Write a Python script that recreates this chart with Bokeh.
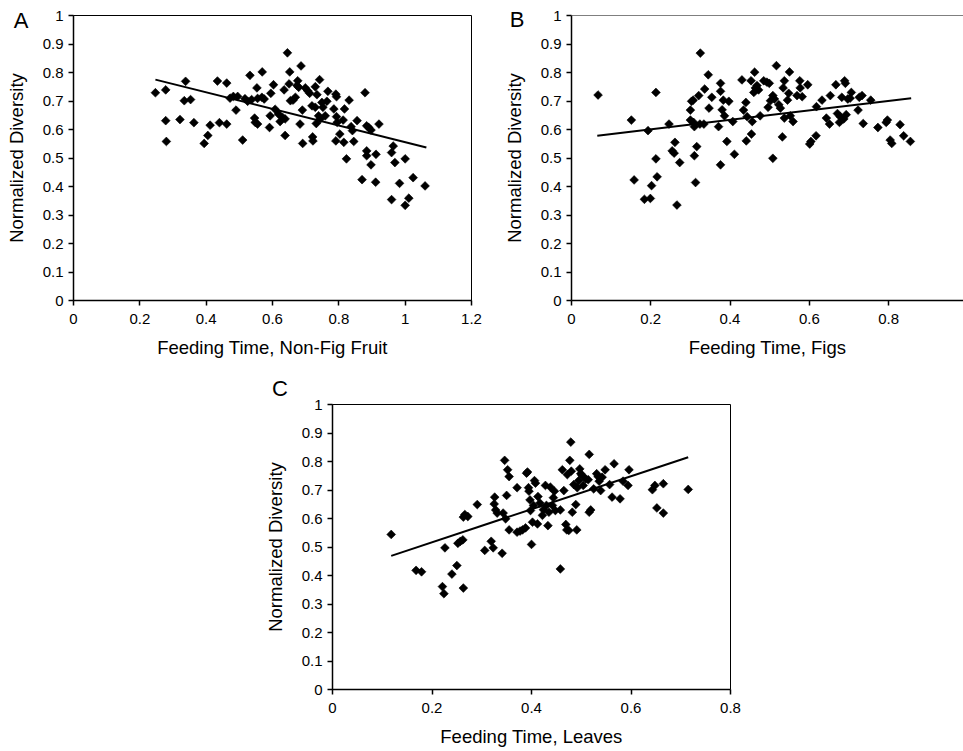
from bokeh.plotting import figure
from bokeh.layouts import row, column, Spacer
from bokeh.models import Range1d, FixedTicker, Span, ColumnDataSource, Div, GridBox
from bokeh.embed import file_html
from bokeh.resources import INLINE
import math

# ---------------- data ----------------
# Panel A: feeding time on non-fig fruit vs normalized diversity
a_x = [0.247, 0.278, 0.278, 0.280, 0.321, 0.338, 0.334, 0.353, 0.363, 0.394,
       0.405, 0.412, 0.434, 0.440, 0.462, 0.462, 0.472, 0.482, 0.490, 0.495,
       0.510, 0.517, 0.525, 0.532, 0.537, 0.546, 0.548, 0.553, 0.555, 0.555,
       0.569, 0.568, 0.575, 0.591, 0.593, 0.595, 0.603, 0.608, 0.618, 0.623,
       0.631, 0.635, 0.638, 0.638, 0.645, 0.650, 0.652, 0.654, 0.662, 0.669,
       0.674, 0.676, 0.679, 0.683, 0.686, 0.690, 0.691, 0.699, 0.706, 0.712,
       0.719, 0.721, 0.722, 0.729, 0.729, 0.732, 0.734, 0.742, 0.739, 0.744,
       0.749, 0.752, 0.759, 0.764, 0.767, 0.785, 0.791, 0.793, 0.791, 0.793,
       0.795, 0.803, 0.813, 0.815, 0.817, 0.823, 0.831, 0.837, 0.841, 0.845,
       0.855, 0.870, 0.879, 0.884, 0.884, 0.884, 0.890, 0.897, 0.897, 0.911,
       0.912, 0.921, 0.959, 0.959, 0.964, 0.969, 0.983, 1.000, 1.000, 1.011,
       1.024, 1.060]
a_y = [0.729, 0.739, 0.631, 0.558, 0.635, 0.769, 0.701, 0.705, 0.624, 0.551,
       0.579, 0.615, 0.770, 0.624, 0.763, 0.619, 0.710, 0.716, 0.668, 0.716,
       0.563, 0.708, 0.699, 0.790, 0.705, 0.640, 0.625, 0.746, 0.619, 0.709,
       0.802, 0.713, 0.707, 0.607, 0.648, 0.727, 0.757, 0.671, 0.654, 0.628,
       0.642, 0.739, 0.637, 0.579, 0.869, 0.760, 0.802, 0.701, 0.703, 0.713,
       0.754, 0.771, 0.748, 0.619, 0.823, 0.668, 0.551, 0.746, 0.736, 0.727,
       0.683, 0.574, 0.560, 0.750, 0.678, 0.621, 0.722, 0.775, 0.648, 0.637,
       0.695, 0.678, 0.648, 0.699, 0.734, 0.672, 0.724, 0.715, 0.560, 0.645,
       0.625, 0.584, 0.633, 0.555, 0.672, 0.497, 0.703, 0.610, 0.596, 0.558,
       0.631, 0.424, 0.729, 0.613, 0.525, 0.508, 0.607, 0.598, 0.476, 0.415,
       0.513, 0.619, 0.354, 0.519, 0.542, 0.484, 0.411, 0.497, 0.334, 0.359,
       0.431, 0.402]
a_trend_x = [0.247, 1.064]
a_trend_y = [0.775, 0.537]

# Panel B: feeding time on figs
b_x = [0.067, 0.151, 0.158, 0.184, 0.193, 0.199, 0.202, 0.213, 0.213, 0.216,
       0.246, 0.254, 0.259, 0.261, 0.266, 0.273, 0.300, 0.300, 0.303, 0.307,
       0.308, 0.310, 0.310, 0.313, 0.316, 0.321, 0.325, 0.324, 0.336, 0.334,
       0.345, 0.347, 0.354, 0.371, 0.376, 0.376, 0.376, 0.380, 0.383, 0.386,
       0.392, 0.397, 0.407, 0.411, 0.430, 0.434, 0.440, 0.441, 0.443, 0.453,
       0.454, 0.456, 0.460, 0.462, 0.464, 0.468, 0.472, 0.476, 0.485, 0.493,
       0.496, 0.499, 0.502, 0.508, 0.508, 0.512, 0.517, 0.523, 0.527, 0.532,
       0.534, 0.537, 0.537, 0.545, 0.548, 0.550, 0.552, 0.559, 0.569, 0.576,
       0.577, 0.582, 0.596, 0.601, 0.604, 0.617, 0.618, 0.632, 0.643, 0.651,
       0.653, 0.667, 0.671, 0.676, 0.678, 0.682, 0.687, 0.689, 0.691, 0.693,
       0.697, 0.703, 0.706, 0.723, 0.726, 0.733, 0.736, 0.755, 0.773, 0.794,
       0.797, 0.804, 0.808, 0.829, 0.838, 0.855]
b_y = [0.721, 0.633, 0.423, 0.355, 0.596, 0.358, 0.403, 0.730, 0.497, 0.434,
       0.619, 0.525, 0.517, 0.555, 0.335, 0.484, 0.668, 0.633, 0.699, 0.703,
       0.625, 0.610, 0.508, 0.414, 0.540, 0.719, 0.868, 0.619, 0.742, 0.619,
       0.792, 0.675, 0.713, 0.610, 0.734, 0.762, 0.476, 0.669, 0.703, 0.648,
       0.558, 0.699, 0.628, 0.513, 0.774, 0.668, 0.695, 0.560, 0.645, 0.771,
       0.584, 0.628, 0.730, 0.801, 0.746, 0.754, 0.739, 0.648, 0.771, 0.766,
       0.678, 0.762, 0.701, 0.499, 0.719, 0.707, 0.824, 0.687, 0.675, 0.574,
       0.746, 0.771, 0.640, 0.703, 0.727, 0.802, 0.648, 0.628, 0.719, 0.771,
       0.746, 0.715, 0.757, 0.549, 0.558, 0.578, 0.680, 0.703, 0.640, 0.619,
       0.719, 0.757, 0.656, 0.625, 0.645, 0.713, 0.637, 0.771, 0.762, 0.652,
       0.707, 0.710, 0.730, 0.668, 0.713, 0.719, 0.621, 0.703, 0.607, 0.625,
       0.633, 0.563, 0.551, 0.617, 0.578, 0.558]
b_trend_x = [0.065, 0.857]
b_trend_y = [0.578, 0.710]

# Panel C: feeding time on leaves
c_x = [0.118, 0.168, 0.179, 0.221, 0.224, 0.226, 0.240, 0.250, 0.252, 0.257,
       0.262, 0.263, 0.263, 0.266, 0.272, 0.291, 0.306, 0.319, 0.323, 0.326,
       0.325, 0.328, 0.331, 0.341, 0.343, 0.346, 0.348, 0.350, 0.352, 0.355,
       0.355, 0.371, 0.371, 0.377, 0.382, 0.388, 0.390, 0.392, 0.394, 0.395,
       0.397, 0.398, 0.400, 0.402, 0.404, 0.406, 0.408, 0.412, 0.413, 0.417,
       0.422, 0.424, 0.428, 0.430, 0.433, 0.435, 0.438, 0.442, 0.444, 0.446,
       0.448, 0.458, 0.458, 0.462, 0.465, 0.469, 0.471, 0.472, 0.475, 0.477,
       0.479, 0.480, 0.482, 0.485, 0.489, 0.491, 0.492, 0.495, 0.497, 0.499,
       0.502, 0.504, 0.509, 0.514, 0.516, 0.516, 0.519, 0.525, 0.531, 0.534,
       0.536, 0.539, 0.542, 0.548, 0.557, 0.562, 0.566, 0.578, 0.584, 0.594,
       0.596, 0.643, 0.648, 0.652, 0.665, 0.665, 0.715]
c_y = [0.544, 0.418, 0.413, 0.361, 0.336, 0.497, 0.405, 0.435, 0.513, 0.520,
       0.525, 0.356, 0.605, 0.614, 0.607, 0.649, 0.488, 0.520, 0.497, 0.675,
       0.651, 0.630, 0.619, 0.478, 0.619, 0.804, 0.599, 0.681, 0.771, 0.747,
       0.560, 0.552, 0.708, 0.556, 0.560, 0.567, 0.759, 0.763, 0.708, 0.696,
       0.665, 0.628, 0.509, 0.587, 0.646, 0.733, 0.724, 0.581, 0.677, 0.654,
       0.611, 0.631, 0.716, 0.646, 0.575, 0.622, 0.710, 0.646, 0.673, 0.696,
       0.628, 0.423, 0.630, 0.771, 0.698, 0.579, 0.560, 0.754, 0.558, 0.804,
       0.868, 0.766, 0.622, 0.719, 0.649, 0.560, 0.708, 0.733, 0.774, 0.757,
       0.751, 0.716, 0.739, 0.736, 0.825, 0.622, 0.630, 0.704, 0.757, 0.747,
       0.731, 0.698, 0.745, 0.771, 0.719, 0.675, 0.792, 0.669, 0.731, 0.716,
       0.771, 0.701, 0.716, 0.637, 0.722, 0.619, 0.702]
c_trend_x = [0.118, 0.715]
c_trend_y = [0.469, 0.815]

y_ticks = [0, 0.1, 0.2, 0.3, 0.4, 0.5, 0.6, 0.7, 0.8, 0.9, 1.0]
y_tick_labels = ["0", "0.1", "0.2", "0.3", "0.4", "0.5", "0.6", "0.7", "0.8", "0.9", "1"]
a_x_ticks = [0, 0.2, 0.4, 0.6, 0.8, 1.0, 1.2]
a_x_tick_labels = ["0", "0.2", "0.4", "0.6", "0.8", "1", "1.2"]
b_x_ticks = [0, 0.2, 0.4, 0.6, 0.8]
b_x_tick_labels = ["0", "0.2", "0.4", "0.6", "0.8"]
c_x_ticks = [0, 0.2, 0.4, 0.6, 0.8]
c_x_tick_labels = ["0", "0.2", "0.4", "0.6", "0.8"]

x_titles = ["Feeding Time, Non-Fig Fruit", "Feeding Time, Figs", "Feeding Time, Leaves"]
y_title = "Normalized Diversity"
panel_letters = ["A", "B", "C"]

FONT = "Liberation Sans"


def make_panel(xs, ys, tx, ty, xr, xticks, xlabels, xtitle,
               width, height, bl, bt, br, bb, outline=True):
    p = figure(width=width, height=height, output_backend="svg", toolbar_location=None,
               x_range=Range1d(*xr), y_range=Range1d(0, 1),
               min_border_left=bl, min_border_top=bt, min_border_right=br,
               min_border_bottom=bb, background_fill_color="white",
               border_fill_color="white")
    p.grid.visible = False
    if outline:
        p.outline_line_color = "black"
        p.outline_line_width = 1
    else:
        p.outline_line_color = None
        p.add_layout(Span(location=1.0, dimension="width", line_color="black", line_width=1))

    p.xaxis.ticker = FixedTicker(ticks=xticks)
    p.xaxis.major_label_overrides = {t: l for t, l in zip(xticks, xlabels)}
    p.yaxis.ticker = FixedTicker(ticks=y_ticks)
    p.yaxis.major_label_overrides = {t: l for t, l in zip(y_ticks, y_tick_labels)}
    for ax in (p.xaxis, p.yaxis):
        ax.axis_line_color = "black"
        ax.axis_line_width = 1.5
        ax.major_tick_line_color = "black"
        ax.major_tick_line_width = 1.5
        ax.major_tick_in = 0
        ax.major_tick_out = 5
        ax.minor_tick_line_color = None
        ax.major_label_text_font = FONT
        ax.major_label_text_font_size = "15px"
        ax.major_label_text_color = "black"
        ax.axis_label_text_font = FONT
        ax.axis_label_text_font_size = "18.5px"
        ax.axis_label_text_font_style = "normal"
        ax.axis_label_text_color = "black"
    p.xaxis.major_label_standoff = 8
    p.yaxis.major_label_standoff = 5
    p.xaxis.axis_label = xtitle
    p.yaxis.axis_label = y_title
    p.xaxis.axis_label_standoff = 10
    p.yaxis.axis_label_standoff = 13

    src = ColumnDataSource(dict(x=xs, y=ys))
    p.scatter("x", "y", source=src, marker="square", angle=math.pi / 4, size=6.2,
              fill_color="black", line_color="black", line_width=0.6)
    p.line(tx, ty, line_color="black", line_width=2)
    return p


def letter_div(letter, top, left):
    html = ('<div style="font-family:\'Liberation Sans\';font-size:22px;color:black;'
            'line-height:24px;width:30px;text-align:center;">%s</div>' % letter)
    return Div(text=html, width=30, height=26, margin=(top, 0, 0, left))


pA = make_panel(a_x, a_y, a_trend_x, a_trend_y, (0, 1.2), a_x_ticks, a_x_tick_labels,
                x_titles[0], width=497, height=370, bl=73, bt=15, br=26, bb=70)
pB = make_panel(b_x, b_y, b_trend_x, b_trend_y, (0, 0.989), b_x_ticks, b_x_tick_labels,
                x_titles[1], width=466, height=370, bl=74, bt=15, br=0, bb=70, outline=False)
pC = make_panel(c_x, c_y, c_trend_x, c_trend_y, (0, 0.8), c_x_ticks, c_x_tick_labels,
                x_titles[2], width=498, height=381, bl=74, bt=34, br=26, bb=62)

top_grid = GridBox(children=[(pA, 0, 0), (letter_div(panel_letters[0], 9, 6), 0, 0),
                             (pB, 0, 1), (letter_div(panel_letters[1], 8, 5), 0, 1)],
                   spacing=0)
bottom_grid = GridBox(children=[(pC, 0, 0), (letter_div(panel_letters[2], 7, 7), 0, 0)],
                      spacing=0)

layout = column(top_grid, row(Spacer(width=258, height=381), bottom_grid, spacing=0),
                spacing=0)

open("out.html", "w").write(file_html(layout, INLINE))
